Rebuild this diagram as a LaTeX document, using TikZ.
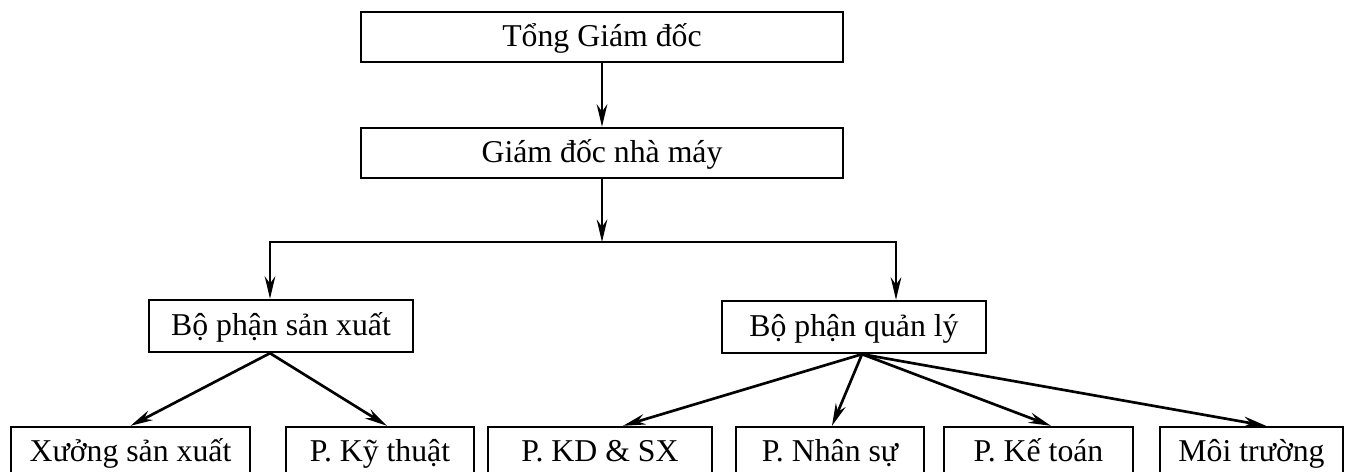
\documentclass[tikz,border=0pt]{standalone}
\usepackage{fontspec}
\setmainfont{Liberation Serif}
\usetikzlibrary{arrows.meta, calc, positioning}
\tikzset{
  hd/.tip={Stealth[length=16pt, width=7.5pt]},
  unit/.style={draw, line width=1.7pt, minimum height=1.25cm, inner sep=0pt,
    text height=18pt, text depth=4pt, font=\fontsize{22.6}{27}\selectfont},
  link/.style={-hd, line width=1.9pt, line join=miter},
}

\begin{document}
\begin{tikzpicture}
  \useasboundingbox (0,0) rectangle (33.725,-11.775);
  % top management
  \node[unit, minimum width=12.05cm] (tgd) at (15.05,-0.925) {Tổng Giám đốc};
  \node[unit, minimum width=12.05cm] (gdnm) at (15.05,-3.825) {Giám đốc nhà máy};
  % the two divisions
  \node[unit, minimum width=6.6cm, minimum height=1.3cm] (bpsx) at (7.025,-8.15) {Bộ phận sản xuất};
  \node[unit, minimum width=6.6cm, minimum height=1.3cm] (bpql) at (21.35,-8.175) {Bộ phận quản lý};
  % departments, bottom edge cut off by the page
  \foreach \nm/\cx/\ww/\txt in {xuong/3.2625/5.975/Xưởng sản xuất, kythuat/9.5/4.7/P. Kỹ thuật,
      kdsx/15.0/5.6/P. KD \& SX, nhansu/20.75/4.7/P. Nhân sự,
      ketoan/25.9625/4.725/P. Kế toán, moitruong/31.2875/4.575/Môi trường}
    \node[unit, minimum width=\ww cm] (\nm) at (\cx,-11.3) {\txt};
  % chain of command
  \draw[link] (tgd) -- (gdnm);
  \coordinate (busL) at (6.75,-6.05);
  \coordinate (busR) at (22.4,-6.05);
  \draw[link] (gdnm.south) -- (gdnm.south |- busL);
  \draw[link, hd-hd] (busL |- bpsx.north) -- (busL) -- (busR) -- (busR |- bpql.north);
  % production side
  \coordinate (sxout) at ([xshift=-0.275cm]bpsx.south);
  \draw[link] (sxout) -- (xuong.north);
  \draw[link] (sxout) -- ([xshift=0.175cm]kythuat.north);
  % management side
  \coordinate (qlout) at ([xshift=0.2cm]bpql.south);
  \foreach \nm/\dx in {kdsx/0.575, nhansu/0.05, ketoan/0.3125, moitruong/0.3625}
    \draw[link] (qlout) -- ([xshift=\dx cm]\nm.north);
\end{tikzpicture}
\end{document}
